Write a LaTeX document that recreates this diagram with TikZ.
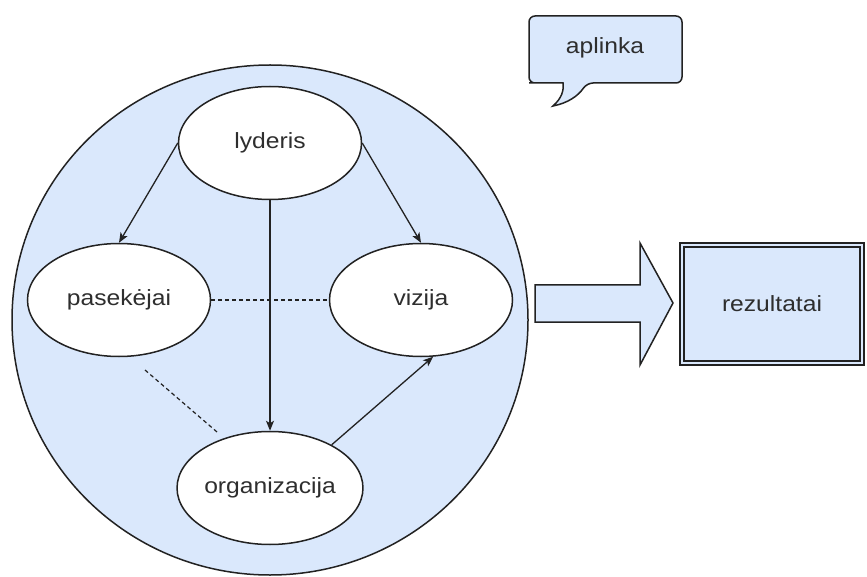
\documentclass[tikz,border=0pt]{standalone}
\usepackage{fontspec}
\setmainfont{Liberation Sans}[FakeStretch=1.12]
\usetikzlibrary{shapes.geometric,arrows.meta}
\definecolor{paleblue}{HTML}{DAE8FC}
\definecolor{ink}{HTML}{2E2E2E}
\definecolor{edge}{HTML}{222222}
\tikzset{
  x=1pt, y=-1pt,
  every node/.style={font=\fontsize{22}{25}\selectfont, text=ink},
  oval/.style={ellipse, draw=edge, line width=1.5pt, fill=white,
    minimum width=183, minimum height=113, inner sep=0pt},
  link/.style={draw=edge, line width=1.3pt, -{Stealth[length=10pt,width=8pt,inset=2.5pt]}},
  dashlink/.style={draw=edge, line width=1.2pt, dash pattern=on 4pt off 3pt},
}
\begin{document}
\begin{tikzpicture}
\useasboundingbox[fill=white] (0,0) rectangle (867,577);

% surrounding circle
\node[ellipse, draw=edge, line width=1.5pt, fill=paleblue,
  minimum width=516, minimum height=510, inner sep=0pt] (env) at (270,320) {};

% the four elements
\node[oval] (ly) at (270,143) {lyderis};
\node[oval] (pa) at (119,300) {pasekėjai};
\node[oval] (vi) at (421,300) {vizija};
\node[oval] (org) at (270,488) {organizacija};

% influences
\draw[link] (ly.west) -- (pa.north);
\draw[link] (ly.east) -- (vi.north);
\draw[link] (ly.south) -- (org.north);
\draw[link] (org.35) -- (vi.-78);

% weaker ties
\draw[dashlink] (pa.east) -- (vi.west);
\coordinate (d1) at (145,370);
\coordinate (d2) at (217,432);
\draw[dashlink] (d1) -- (d2);

% speech bubble
\draw[draw=edge, line width=1.5pt, fill=paleblue, rounded corners=6pt]
  (563,83) -- (535,83) -- (529,83) -- (529,16) -- (682,16) -- (682,83) -- (587,83)
  [sharp corners] .. controls (578,96) and (568,103) .. (553,106)
  .. controls (562,98) and (564,90) .. cycle;
\node (ap) at (605,48) {aplinka};

% block arrow
\draw[draw=edge, line width=1.5pt, fill=paleblue]
  (535,285) -- (640,285) -- (640,243) -- (673,303) -- (640,365) -- (640,322)
  -- (535,322) -- cycle;

% result box with double border
\draw[draw=edge, line width=1.4pt, fill=paleblue] (680,243) rectangle (864,365);
\draw[draw=edge, line width=1.4pt] (684,247) rectangle (860,361);
\node (re) at (772,304) {rezultatai};
\end{tikzpicture}
\end{document}
